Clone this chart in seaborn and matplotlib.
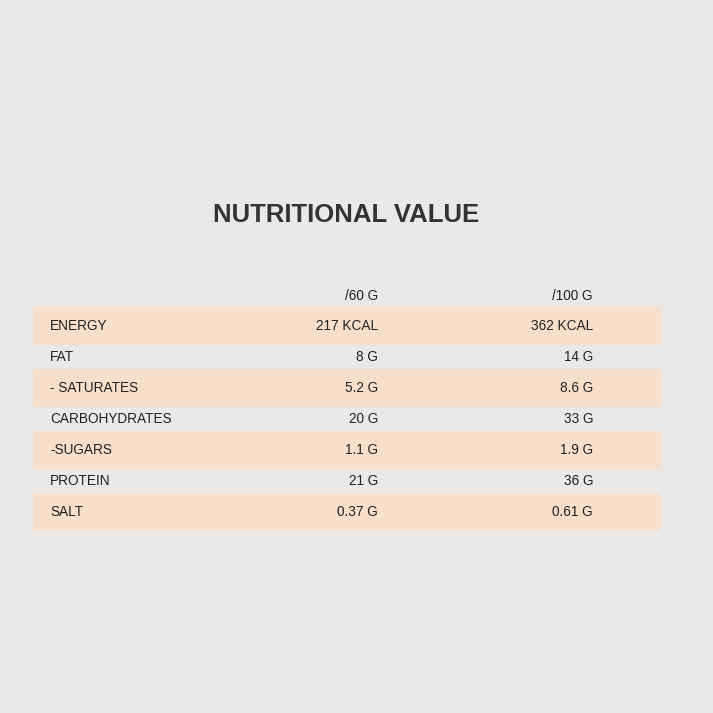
import matplotlib
matplotlib.use("Agg")
import matplotlib.pyplot as plt
import seaborn as sns

# table content
title = "NUTRITIONAL VALUE"
col_headers = ["/60 G", "/100 G"]
nutrients = ["ENERGY", "FAT", "- SATURATES", "CARBOHYDRATES", "-SUGARS", "PROTEIN", "SALT"]
per_60g = ["217 KCAL", "8 G", "5.2 G", "20 G", "1.1 G", "21 G", "0.37 G"]
per_100g = ["362 KCAL", "14 G", "8.6 G", "33 G", "1.9 G", "36 G", "0.61 G"]

BG = "#e9e9e9"
BAND = "#f7dfca"
TEXT = "#222222"

sns.set_theme(style="white", rc={"font.family": "Liberation Sans"})

fig = plt.figure(figsize=(7.13, 7.13), dpi=100, facecolor=BG)
ax = fig.add_axes([0, 0, 1, 1])
ax.set_facecolor(BG)
ax.set_xlim(0, 713)
ax.set_ylim(713, 0)
ax.axis("off")

row_y0, row_step = 326, 31
rows_y = [row_y0 + i * row_step for i in range(len(nutrients))]

# shaded bands on every other row
band_y = [y for i, y in enumerate(rows_y) if i % 2 == 0]
ax.barh(band_y, width=628, left=33, height=38, color=BAND, linewidth=0)

ax.text(346, 215, title, ha="center", va="center", fontsize=18.5,
        fontweight="bold", color="#333333")

fs = 9.8
ax.text(378, 296, col_headers[0], ha="right", va="center", fontsize=fs, color=TEXT)
ax.text(593, 296, col_headers[1], ha="right", va="center", fontsize=fs, color=TEXT)

for y, name, a, b in zip(rows_y, nutrients, per_60g, per_100g):
    ax.text(50, y, name, ha="left", va="center", fontsize=fs, color=TEXT)
    ax.text(378, y, a, ha="right", va="center", fontsize=fs, color=TEXT)
    ax.text(593, y, b, ha="right", va="center", fontsize=fs, color=TEXT)

fig.savefig("out.png", dpi=100, facecolor=BG)
